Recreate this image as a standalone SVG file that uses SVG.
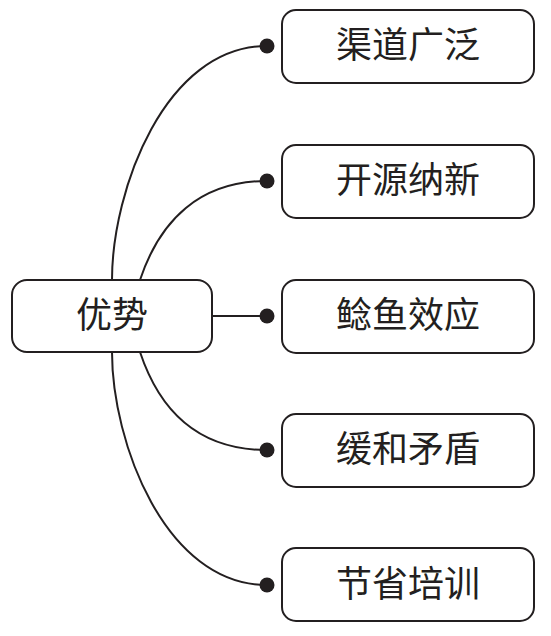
<svg xmlns="http://www.w3.org/2000/svg" width="551" height="636" viewBox="0 0 551 636">
<style>
.box{fill:#fff;stroke:#231f20;stroke-width:2}
.t{font-family:"Liberation Serif","Noto Sans CJK SC",serif;font-size:36px;fill:#231f20;text-anchor:middle;dominant-baseline:central}
.c{fill:none;stroke:#231f20;stroke-width:2}
.d{fill:#231f20}
</style>
<rect width="551" height="636" fill="#fff"/>
<g id="connectors">
<path class="c" d="M112 280 C112 190 165 46 267 46"/>
<path class="c" d="M140 280 C160 220 200 181 267 181"/>
<path class="c" d="M212 316 L267 316"/>
<path class="c" d="M140 352 C160 412 200 450 267 450"/>
<path class="c" d="M112 352 C112 442 165 585 267 585"/>
<circle class="d" cx="267" cy="46" r="7.5"/>
<circle class="d" cx="267" cy="181" r="7.5"/>
<circle class="d" cx="267" cy="316" r="7.5"/>
<circle class="d" cx="267" cy="450" r="7.5"/>
<circle class="d" cx="267" cy="585" r="7.5"/>
</g>
<g id="n0"><rect class="box" x="12" y="280" width="200" height="72" rx="15"/><text class="t" x="112" y="316">优势</text></g>
<g id="n1"><rect class="box" x="282" y="10" width="252" height="73" rx="14"/><text class="t" x="408" y="46">渠道广泛</text></g>
<g id="n2"><rect class="box" x="282" y="145" width="252" height="73" rx="14"/><text class="t" x="408" y="181">开源纳新</text></g>
<g id="n3"><rect class="box" x="282" y="280" width="252" height="73" rx="14"/><text class="t" x="408" y="316">鲶鱼效应</text></g>
<g id="n4"><rect class="box" x="282" y="414" width="252" height="73" rx="14"/><text class="t" x="408" y="450">缓和矛盾</text></g>
<g id="n5"><rect class="box" x="282" y="548" width="252" height="73" rx="14"/><text class="t" x="408" y="585">节省培训</text></g>
</svg>
